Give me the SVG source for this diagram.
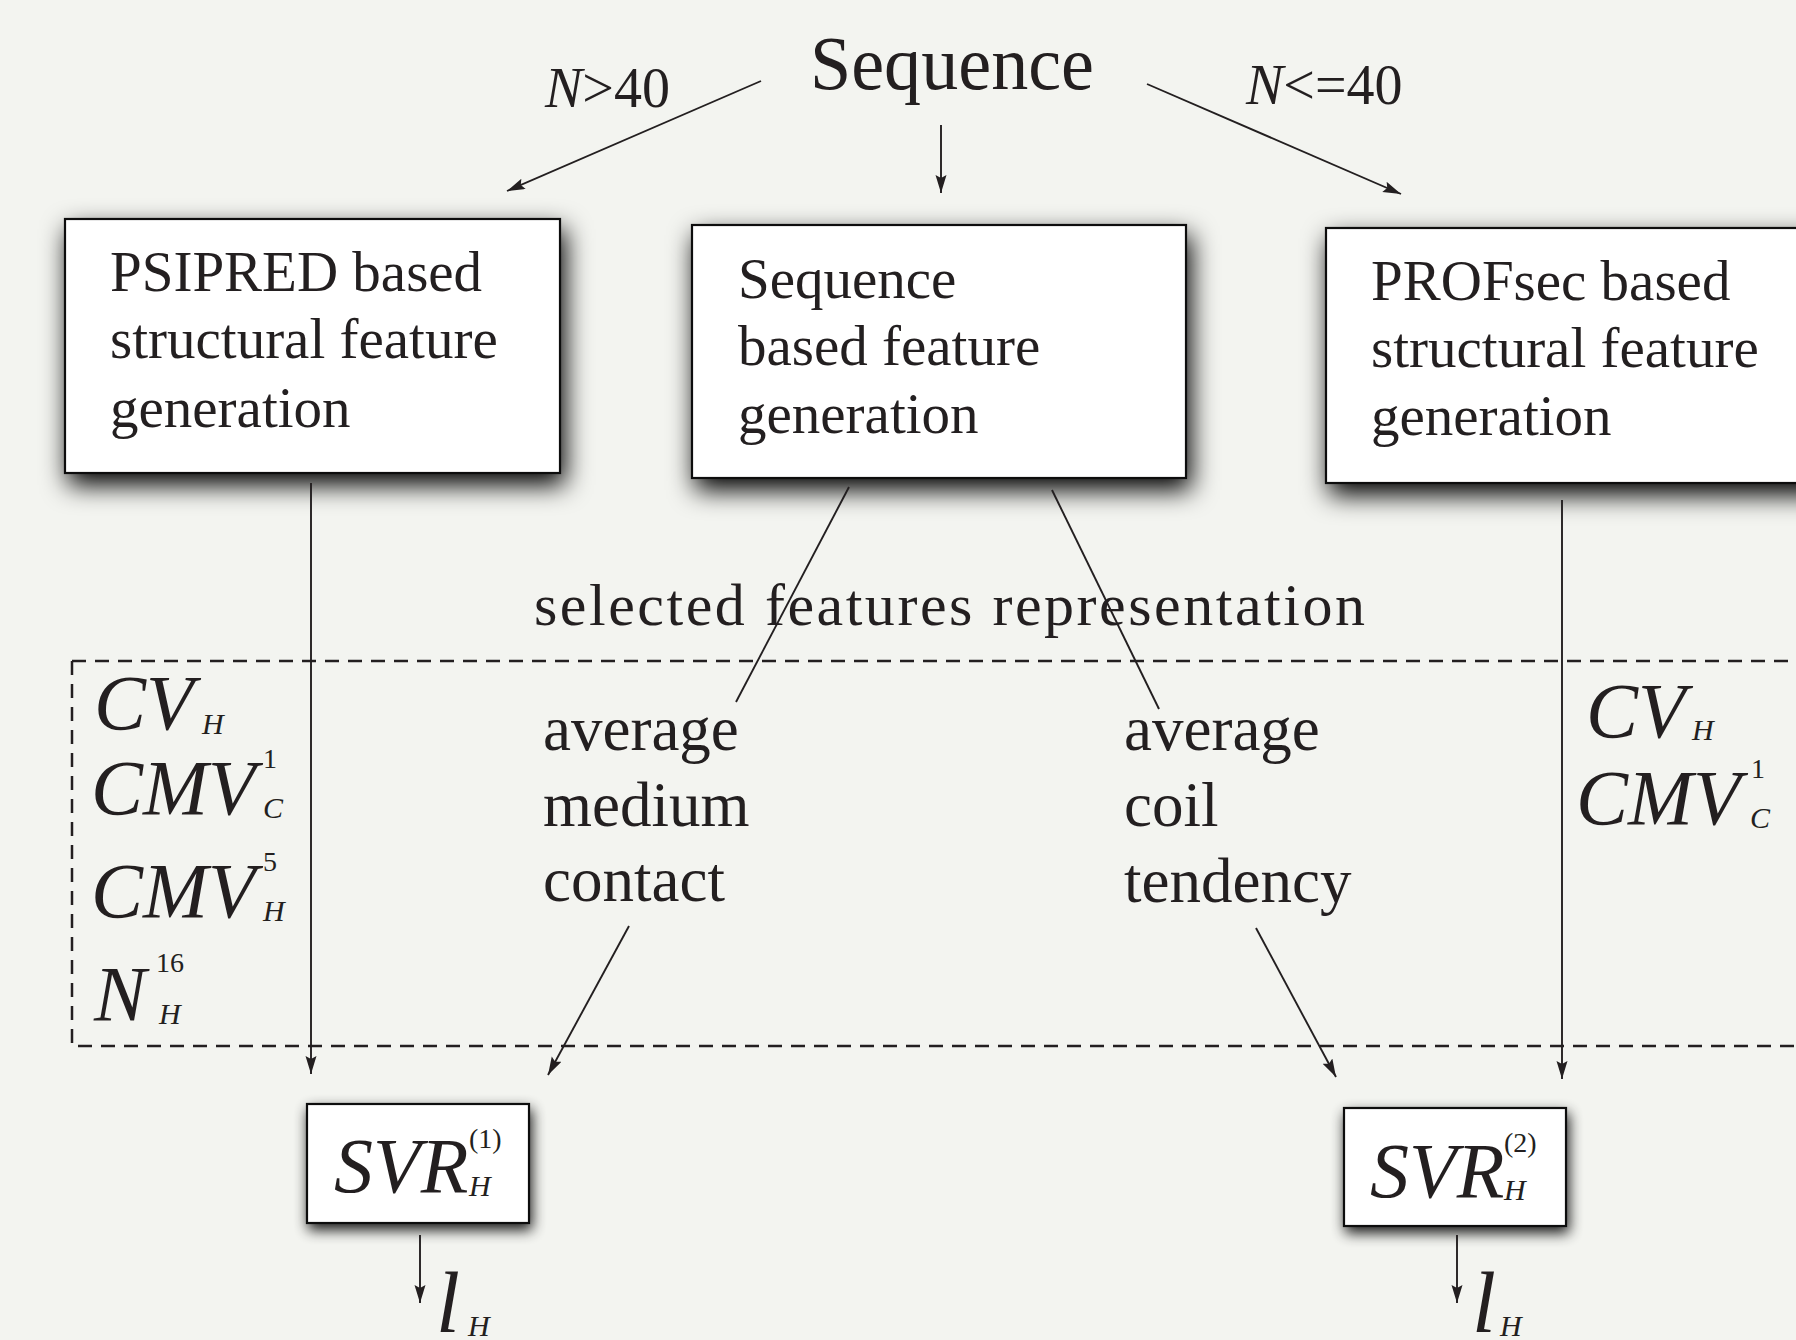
<svg xmlns="http://www.w3.org/2000/svg" width="1796" height="1340" viewBox="0 0 1796 1340">
<style>
text{font-family:"Liberation Serif","Times New Roman",serif;fill:#231f20}
.it{font-style:italic}
.box{fill:#fff;stroke:#111;stroke-width:2.2}
.bt{font-size:57px}
.feat{font-size:63px}
.big{font-size:78px;font-style:italic}
.sm{font-size:30px;font-style:italic}
.sup{font-size:28px}
.ln{stroke:#231f20;stroke-width:1.9;fill:none}
.arr{marker-end:url(#ah)}
.dash{stroke:#231f20;stroke-width:2.5;stroke-dasharray:14 9;fill:none}
</style>
<defs>
<marker id="ah" markerUnits="userSpaceOnUse" markerWidth="20" markerHeight="12" refX="18" refY="5.5" orient="auto">
<path d="M0,0 L18,5.5 L0,11 L3,5.5 z" fill="#231f20"/>
</marker>
<filter id="shadow" x="-20%" y="-30%" width="145%" height="175%">
<feGaussianBlur in="SourceAlpha" stdDeviation="13"/>
<feOffset dx="4" dy="11"/>
<feComponentTransfer><feFuncA type="linear" slope="1"/></feComponentTransfer>
<feMerge><feMergeNode/><feMergeNode in="SourceGraphic"/></feMerge>
</filter>
<filter id="shadow2" x="-25%" y="-40%" width="150%" height="190%">
<feGaussianBlur in="SourceAlpha" stdDeviation="7"/>
<feOffset dx="2" dy="6"/>
<feComponentTransfer><feFuncA type="linear" slope="0.9"/></feComponentTransfer>
<feMerge><feMergeNode/><feMergeNode in="SourceGraphic"/></feMerge>
</filter>
</defs>
<rect x="0" y="0" width="1796" height="1340" fill="#f3f4f0"/>

<g id="sequence">
<text x="810" y="89" font-size="76" textLength="284" lengthAdjust="spacingAndGlyphs">Sequence</text>
</g>

<g id="label-n-gt-40">
<text x="545" y="107" font-size="56"><tspan class="it">N</tspan>&gt;40</text>
</g>
<g id="label-n-le-40">
<text x="1246" y="104" font-size="56"><tspan class="it">N</tspan>&lt;=40</text>
</g>

<g id="psipred">
<rect class="box" x="65" y="219" width="495" height="254" filter="url(#shadow)"/>
<text class="bt" x="110" y="291">PSIPRED based</text>
<text class="bt" x="110" y="358">structural feature</text>
<text class="bt" x="110" y="427">generation</text>
</g>

<g id="seqfeat">
<rect class="box" x="692" y="225" width="494" height="253" filter="url(#shadow)"/>
<text class="bt" x="738" y="298">Sequence</text>
<text class="bt" x="738" y="365">based feature</text>
<text class="bt" x="738" y="433">generation</text>
</g>

<g id="profsec">
<rect class="box" x="1326" y="228" width="520" height="255" filter="url(#shadow)"/>
<text class="bt" x="1371" y="300">PROFsec based</text>
<text class="bt" x="1371" y="367">structural feature</text>
<text class="bt" x="1371" y="435">generation</text>
</g>

<g id="selected-label">
<text x="534" y="625" font-size="60" textLength="831" lengthAdjust="spacing">selected features representation</text>
</g>

<g id="feature-region">
<path class="dash" d="M72 661 H1800"/>
<path class="dash" d="M72 661 V1046 H1800"/>
</g>

<g id="left-features">
<text class="big" x="94" y="729">CV</text>
<text class="sm" x="202" y="734">H</text>
<text class="big" x="91" y="814">CMV</text>
<text class="sup" x="263" y="768">1</text>
<text class="sm" x="263" y="818">C</text>
<text class="big" x="91" y="917">CMV</text>
<text class="sup" x="263" y="871">5</text>
<text class="sm" x="263" y="921">H</text>
<text class="big" x="94" y="1020">N</text>
<text class="sup" x="156" y="972">16</text>
<text class="sm" x="159" y="1024">H</text>
</g>

<g id="avg-medium-contact">
<text class="feat" x="543" y="750">average</text>
<text class="feat" x="543" y="826">medium</text>
<text class="feat" x="543" y="901">contact</text>
</g>

<g id="avg-coil-tendency">
<text class="feat" x="1124" y="750">average</text>
<text class="feat" x="1124" y="826">coil</text>
<text class="feat" x="1124" y="902">tendency</text>
</g>

<g id="right-features">
<text class="big" x="1586" y="737">CV</text>
<text class="sm" x="1692" y="740">H</text>
<text class="big" x="1576" y="824">CMV</text>
<text class="sup" x="1751" y="778">1</text>
<text class="sm" x="1750" y="828">C</text>
</g>

<g id="svr1">
<rect class="box" x="307" y="1104" width="222" height="119" filter="url(#shadow2)"/>
<text class="big" x="334" y="1192">SVR</text>
<text class="sup" x="469" y="1148" font-size="32">(1)</text>
<text class="sm" x="469" y="1196">H</text>
</g>

<g id="svr2">
<rect class="box" x="1344" y="1108" width="222" height="118" filter="url(#shadow2)"/>
<text class="big" x="1370" y="1197">SVR</text>
<text class="sup" x="1504" y="1152" font-size="32">(2)</text>
<text class="sm" x="1504" y="1200">H</text>
</g>

<g id="out1">
<text x="436" y="1332" font-size="86" font-style="italic">l</text>
<text class="sm" x="468" y="1336">H</text>
</g>
<g id="out2">
<text x="1472" y="1332" font-size="86" font-style="italic">l</text>
<text class="sm" x="1500" y="1336">H</text>
</g>

<g id="connectors">
<line class="ln arr" x1="761" y1="81" x2="507" y2="191"/>
<line class="ln arr" x1="941" y1="125" x2="941" y2="193"/>
<line class="ln arr" x1="1147" y1="84" x2="1401" y2="194"/>
<line class="ln arr" x1="311" y1="483" x2="311" y2="1074"/>
<line class="ln" x1="849" y1="487" x2="736" y2="702"/>
<line class="ln" x1="1052" y1="490" x2="1159" y2="709"/>
<line class="ln arr" x1="629" y1="926" x2="548" y2="1075"/>
<line class="ln arr" x1="1256" y1="928" x2="1336" y2="1077"/>
<line class="ln arr" x1="1562" y1="500" x2="1562" y2="1079"/>
<line class="ln arr" x1="420" y1="1235" x2="420" y2="1303"/>
<line class="ln arr" x1="1457" y1="1235" x2="1457" y2="1303"/>
</g>
</svg>
